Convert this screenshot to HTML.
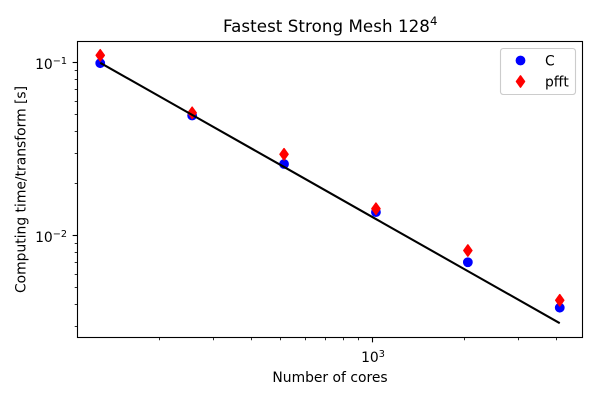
<!DOCTYPE html>
<html>
<head>
<meta charset="utf-8">
<style>
html,body{margin:0;padding:0;background:#fff;width:600px;height:400px;overflow:hidden}
svg{display:block}
text{font-family:"DejaVu Sans","Liberation Sans",sans-serif;fill:#000}
</style>
</head>
<body>
<svg id="chart" width="600" height="400" viewBox="0 0 600 400" xmlns="http://www.w3.org/2000/svg">
  <rect x="0" y="0" width="600" height="400" fill="#fff"/>
  <text x="223" y="32" font-size="16.67" letter-spacing="0.07">Fastest Strong Mesh 128<tspan dy="-7" font-size="11.7">4</tspan></text>
  <text x="330" y="382" font-size="13.89" text-anchor="middle">Number of cores</text>
  <text x="0" y="0" font-size="13.89" text-anchor="middle" transform="translate(25.5 189.5) rotate(-90)">Computing time/transform [s]</text>
  <g id="minor-ticks"></g>
  <g id="major-ticks"></g>
  <g id="marks"></g>
  <rect x="77.5" y="41.5" width="505" height="296" fill="none" stroke="#000" stroke-width="1.11"/>
  <g>
    <rect x="500.5" y="48.5" width="75" height="46" rx="2.8" fill="#fff" fill-opacity="0.8" stroke="#ccc" stroke-width="1.11"/>
    <g>
      <circle cx="520.5" cy="60.5" r="4.4" fill="#0000ff" stroke="#0000ff" stroke-width="1"/>
      <text x="545" y="65.5" font-size="13.89">C</text>
    </g>
    <g>
      <polygon points="520.5,75.8 524.6,81.5 520.5,87.2 516.4,81.5" fill="#ff0000" stroke="#ff0000" stroke-width="1.39" stroke-linejoin="round"/>
      <text x="545" y="86.5" font-size="13.89">pfft</text>
    </g>
  </g>
</svg>
<script>
const cores = [128, 256, 512, 1024, 2048, 4096];
const seriesC = [0.0995, 0.0496, 0.026, 0.0137, 0.00703, 0.00384];
const seriesPfft = [0.1105, 0.0514, 0.0296, 0.01434, 0.00822, 0.00424];
const seriesIdeal = [0.1, 0.05, 0.025, 0.0125, 0.00625, 0.003125];
const xMajorTicks = [1000];
const xMinorTicks = [200, 300, 400, 500, 600, 700, 800, 900, 2000, 3000, 4000];
const yMajorTicks = [0.1, 0.01];
const yMinorTicks = [0.09, 0.08, 0.07, 0.06, 0.05, 0.04, 0.03, 0.02, 0.009, 0.008, 0.007, 0.006, 0.005, 0.004, 0.003];
const NS = 'http://www.w3.org/2000/svg';
function xScale(v) { return 372.8 + 305.3 * (Math.log10(v) - 3); }
function yScale(v) { return 62.8 - 173 * (Math.log10(v) + 1); }
function snap(p) { return Math.floor(p) + 0.5; }
const plotBottom = 337.5;
const plotLeft = 77.5;
const minorG = document.getElementById('minor-ticks');
const majorG = document.getElementById('major-ticks');
const marks = document.getElementById('marks');
function make(tag, attrs, parent) {
  const el = document.createElementNS(NS, tag);
  for (const k in attrs) el.setAttribute(k, attrs[k]);
  parent.appendChild(el);
  return el;
}
xMinorTicks.forEach(function (t) {
  const x = snap(xScale(t));
  const el = make('line', { x1: x, x2: x, y1: plotBottom, y2: plotBottom + 2.8, stroke: '#000', 'stroke-width': 0.83 }, minorG);
  
  
});
yMinorTicks.forEach(function (t) {
  const y = snap(yScale(t));
  const el = make('line', { x1: plotLeft - 2.8, x2: plotLeft, y1: y, y2: y, stroke: '#000', 'stroke-width': 0.83 }, minorG);
  
  
});
function powerLabel(parent, v, attrs) {
  const t = make('text', attrs, parent);
  t.appendChild(document.createTextNode('10'));
  const sup = document.createElementNS(NS, 'tspan');
  sup.setAttribute('dy', '-5');
  sup.setAttribute('font-size', '9.7');
  sup.textContent = String(Math.round(Math.log10(v))).replace('-', '\u2212');
  t.appendChild(sup);
  return t;
}
xMajorTicks.forEach(function (t) {
  const x = snap(xScale(t));
  const el = make('line', { x1: x, x2: x, y1: plotBottom, y2: plotBottom + 4.86, stroke: '#000', 'stroke-width': 1.11 }, majorG);
  
  
  const label = powerLabel(majorG, t, { x: x + 0.5, y: 362, 'font-size': 13.89, 'text-anchor': 'middle' });
  
  
});
yMajorTicks.forEach(function (t) {
  const y = snap(yScale(t));
  const el = make('line', { x1: plotLeft - 4.86, x2: plotLeft, y1: y, y2: y, stroke: '#000', 'stroke-width': 1.11 }, majorG);
  
  
  const label = powerLabel(majorG, t, { x: 67, y: y + 6.5, 'font-size': 13.89, 'text-anchor': 'end' });
  
  
});
cores.forEach(function (c, i) {
  const el = make('circle', { cx: xScale(c), cy: yScale(seriesC[i]), r: 4.4, fill: '#0000ff', stroke: '#0000ff', 'stroke-width': 1 }, marks);
  
  
});
cores.forEach(function (c, i) {
  const x = xScale(c);
  const y = yScale(seriesPfft[i]);
  const pts = [[x, y - 5.7], [x + 4.1, y], [x, y + 5.7], [x - 4.1, y]].map(function (p) { return p.join(','); }).join(' ');
  const el = make('polygon', { points: pts, fill: '#ff0000', stroke: '#ff0000', 'stroke-width': 1.39, 'stroke-linejoin': 'round' }, marks);
  
  
});
const idealPts = cores.map(function (c, i) { return xScale(c) + ',' + yScale(seriesIdeal[i]); }).join(' ');
const idealLine = make('polyline', { points: idealPts, fill: 'none', stroke: '#000', 'stroke-width': 2.08 }, marks);


</script>
</body>
</html>
